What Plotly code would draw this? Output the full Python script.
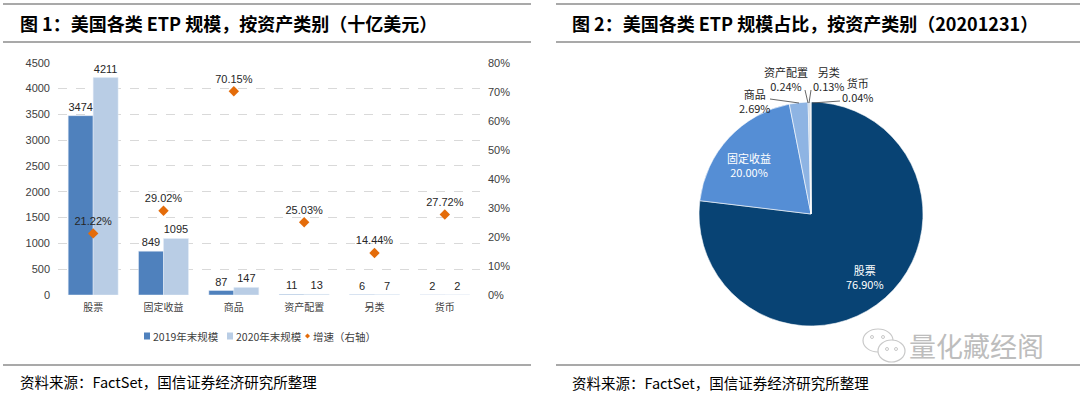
import plotly.graph_objects as go

# ---------------- data ----------------
categories = ["股票", "固定收益", "商品", "资产配置", "另类", "货币"]
aum_2019 = [3474, 849, 87, 11, 6, 2]
aum_2020 = [4211, 1095, 147, 13, 7, 2]
growth = [0.2122, 0.2902, 0.7015, 0.2503, 0.1444, 0.2772]
growth_labels = ["21.22%", "29.02%", "70.15%", "25.03%", "14.44%", "27.72%"]
series_names = ["2019年末规模", "2020年末规模", "增速（右轴）"]

pie_labels = ["股票", "固定收益", "商品", "资产配置", "另类", "货币"]
pie_share = [76.90, 20.00, 2.69, 0.24, 0.13, 0.04]
pie_share_labels = ["76.90%", "20.00%", "2.69%", "0.24%", "0.13%", "0.04%"]

W, H = 1080, 394
def px(x):
    return x / W
def py(y):
    return 1 - y / H

CJK = "Noto Sans CJK SC"
NUM = "Liberation Sans, Arial, sans-serif"
C19, C20, CG = "#4F81BD", "#B9CDE5", "#E46C0A"

fig = go.Figure()

fig.add_trace(go.Bar(
    x=categories, y=aum_2019, name=series_names[0],
    marker_color=C19,
    text=[str(v) for v in aum_2019], textposition="outside",
    textfont=dict(family=NUM, size=11, color="#262626"),
    cliponaxis=False, showlegend=False,
))
fig.add_trace(go.Bar(
    x=categories, y=aum_2020, name=series_names[1],
    marker_color=C20,
    text=[str(v) for v in aum_2020], textposition="outside",
    textfont=dict(family=NUM, size=11, color="#262626"),
    cliponaxis=False, showlegend=False,
))
fig.add_trace(go.Scatter(
    x=categories, y=growth, name=series_names[2], yaxis="y2",
    mode="markers+text",
    marker=dict(symbol="diamond", size=8, color=CG),
    text=growth_labels, textposition="top center",
    textfont=dict(family=NUM, size=11, color="#262626"),
    cliponaxis=False, showlegend=False,
))

# ---------------- pie ----------------
pie_colors = ["#084374", "#558ED5", "#8EB4E3", "#A6BDD7", "#7F8FA6", "#D9D9D9"]
fig.add_trace(go.Pie(
    labels=pie_labels, values=pie_share, sort=False,
    direction="clockwise", rotation=0,
    marker=dict(colors=pie_colors, line=dict(color="white", width=0.6)),
    textinfo="none",
    domain=dict(x=[px(699), px(923)], y=[py(326), py(102)]),
    showlegend=False, hoverinfo="label+percent",
))

fig.update_layout(
    width=W, height=H,
    margin=dict(l=0, r=0, t=0, b=0, autoexpand=False),
    paper_bgcolor="white", plot_bgcolor="white",
    barmode="group", bargap=0.29, bargroupgap=0,
    font=dict(family=CJK, color="#262626"),
    showlegend=False,
    xaxis=dict(
        domain=[px(58), px(480)], showline=False, ticks="", automargin=False,
        ticklabelstandoff=5,
        tickfont=dict(family=CJK, size=10, color="#404040"),
    ),
    yaxis=dict(
        domain=[py(295), py(62.7)], range=[0, 4500], dtick=500, automargin=False,
        showgrid=True, gridcolor="#D9D9D9", griddash="dash", gridwidth=1,
        zeroline=False, showline=False, ticks="", ticklabelstandoff=7,
        tickfont=dict(family=NUM, size=11, color="#404040"),
    ),
    yaxis2=dict(
        overlaying="y", side="right", anchor="x", automargin=False,
        range=[0, 0.8], dtick=0.1, tickformat=".0%", ticklabelstandoff=7,
        showgrid=False, zeroline=False, showline=False, ticks="",
        tickfont=dict(family=NUM, size=11, color="#404040"),
    ),
)

shapes = []
for (x0, x1) in [(3, 531), (556, 1080)]:
    for yy in [4, 42, 365]:
        shapes.append(dict(type="line", xref="paper", yref="paper",
                           x0=px(x0), x1=px(x1), y0=py(yy), y1=py(yy),
                           line=dict(color="#8C8C8C", width=1.5)))

# pie leader lines for the thin slices
leaders = [((770, 99), (799, 103)),
           ((805, 90), (808, 103)),
           ((811, 90), (809, 103)),
           ((840, 101), (812, 103))]
for (a, b) in leaders:
    shapes.append(dict(type="line", xref="paper", yref="paper",
                       x0=px(a[0]), y0=py(a[1]), x1=px(b[0]), y1=py(b[1]),
                       line=dict(color="#404040", width=0.8)))

# legend symbols (custom compact legend)
shapes.append(dict(type="rect", xref="paper", yref="paper",
                   x0=px(144), x1=px(150), y0=py(339.5), y1=py(332.5),
                   fillcolor=C19, line=dict(width=0)))
shapes.append(dict(type="rect", xref="paper", yref="paper",
                   x0=px(227), x1=px(233), y0=py(339.5), y1=py(332.5),
                   fillcolor=C20, line=dict(width=0)))
dx, dy = 2.5 / W, 2.5 / H
cx, cy = px(307.5), py(336)
shapes.append(dict(type="path", xref="paper", yref="paper",
                   path=f"M {cx-dx} {cy} L {cx} {cy+dy} L {cx+dx} {cy} L {cx} {cy-dy} Z",
                   fillcolor=CG, line=dict(width=0)))

# watermark icon
shapes.append(dict(type="circle", xref="paper", yref="paper",
                   x0=px(863), x1=px(893), y0=py(352), y1=py(329),
                   line=dict(color="#C8C8C8", width=1.2), fillcolor="white"))
shapes.append(dict(type="circle", xref="paper", yref="paper",
                   x0=px(878), x1=px(905), y0=py(362), y1=py(340),
                   line=dict(color="#C8C8C8", width=1.2), fillcolor="white"))
for (ccx, ccy) in [(872, 337), (883, 337), (887, 349), (896, 349)]:
    shapes.append(dict(type="circle", xref="paper", yref="paper",
                       x0=px(ccx - 1.5), x1=px(ccx + 1.5), y0=py(ccy + 1.5), y1=py(ccy - 1.5),
                       line=dict(color="#C8C8C8", width=1)))
fig.update_layout(shapes=shapes)

annotations = [
    dict(text="<b>图 1：美国各类 ETP 规模，按资产类别（十亿美元）</b>",
         x=px(18), y=py(23), xanchor="left", yanchor="middle",
         font=dict(family=CJK, size=18, color="#000000")),
    dict(text="<b>图 2：美国各类 ETP 规模占比，按资产类别（20201231）</b>",
         x=px(570), y=py(23), xanchor="left", yanchor="middle",
         font=dict(family=CJK, size=18, color="#000000")),
    dict(text="资料来源：FactSet，国信证券经济研究所整理",
         x=px(18), y=py(381), xanchor="left", yanchor="middle",
         font=dict(family=CJK, size=14.5, color="#000000")),
    dict(text="资料来源：FactSet，国信证券经济研究所整理",
         x=px(570), y=py(382), xanchor="left", yanchor="middle",
         font=dict(family=CJK, size=14.5, color="#000000")),
    dict(text="量化藏经阁",
         x=px(976), y=py(345), xanchor="center", yanchor="middle",
         font=dict(family=CJK, size=27, color="#BDBDBD")),
]
# legend texts
for name, lx in zip(series_names, [151, 234, 311]):
    annotations.append(dict(text=name, x=px(lx), y=py(336), xanchor="left", yanchor="middle",
                            font=dict(family=CJK, size=10.5, color="#404040")))

# pie labels
pie_label_pos = {0: (865, 277, "white"), 1: (749, 165, "white"),
                 2: (755, 101, "#262626"), 3: (786, 79, "#262626"),
                 4: (829, 79, "#262626"), 5: (858, 90, "#262626")}
for i, (lx, ly, col) in pie_label_pos.items():
    annotations.append(dict(
        text=pie_labels[i] + "<br>" + pie_share_labels[i],
        x=px(lx), y=py(ly), xanchor="center", yanchor="middle",
        font=dict(family=CJK, size=11, color=col),
    ))
for a in annotations:
    a.update(xref="paper", yref="paper", showarrow=False)
fig.update_layout(annotations=annotations)

fig.write_html("out.html", config={"displayModeBar": False},
               post_script="document.body.style.margin='0';")
